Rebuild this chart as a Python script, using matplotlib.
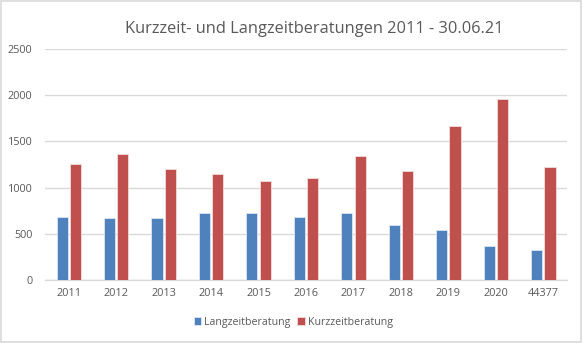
import numpy as np
import matplotlib.pyplot as plt
from matplotlib.patches import Rectangle

years = ['2011', '2012', '2013', '2014', '2015', '2016', '2017', '2018', '2019', '2020', '44377']
lang = [683, 676, 668, 726, 726, 683, 720, 600, 546, 372, 321]
kurz = [1255, 1361, 1198, 1150, 1067, 1100, 1339, 1179, 1668, 1958, 1226]

plt.rcParams['font.family'] = ['Open Sans', 'DejaVu Sans']

fig = plt.figure(figsize=(5.83, 3.43), dpi=100)
ax = fig.add_axes([0.0772, 0.1837, 0.8954, 0.6733])

x = np.arange(len(years))
w = 0.235
ax.bar(x - 0.14, lang, w, color='#4F81BD', edgecolor='#dce6f2', linewidth=0.6,
       label='Langzeitberatung', zorder=3)
ax.bar(x + 0.14, kurz, w, color='#C0504D', edgecolor='#f2dcdb', linewidth=0.6,
       label='Kurzzeitberatung', zorder=3)

ax.set_xlim(-0.5, len(years) - 0.5)
ax.set_ylim(0, 2500)
ax.set_yticks(range(0, 2501, 500))
ax.set_xticks(x)
ax.set_xticklabels(years)
ax.yaxis.grid(True, color='#d9d9d9', linewidth=1, zorder=0)
for s in ['top', 'right', 'left']:
    ax.spines[s].set_visible(False)
ax.spines['bottom'].set_color('#d9d9d9')
ax.spines['bottom'].set_linewidth(1)
ax.tick_params(length=0, labelsize=7.8, colors='#595959', pad=6)
ax.tick_params(axis='y', pad=9)

fig.text(0.539, 0.915, 'Kurzzeit- und Langzeitberatungen 2011 - 30.06.21',
         ha='center', va='center', fontsize=11.8, color='#595959')

fig.legend(loc='center', bbox_to_anchor=(0.503, 0.061), ncol=2, frameon=False,
           fontsize=7.7, labelcolor='#595959', handlelength=0.7, handleheight=0.7,
           handletextpad=0.3, columnspacing=0.6)

fig.patches.append(Rectangle((0.002, 0.003), 0.995, 0.993, transform=fig.transFigure,
                             fill=False, edgecolor='#d9d9d9', linewidth=1.2))

fig.savefig('out.png', dpi=100)
